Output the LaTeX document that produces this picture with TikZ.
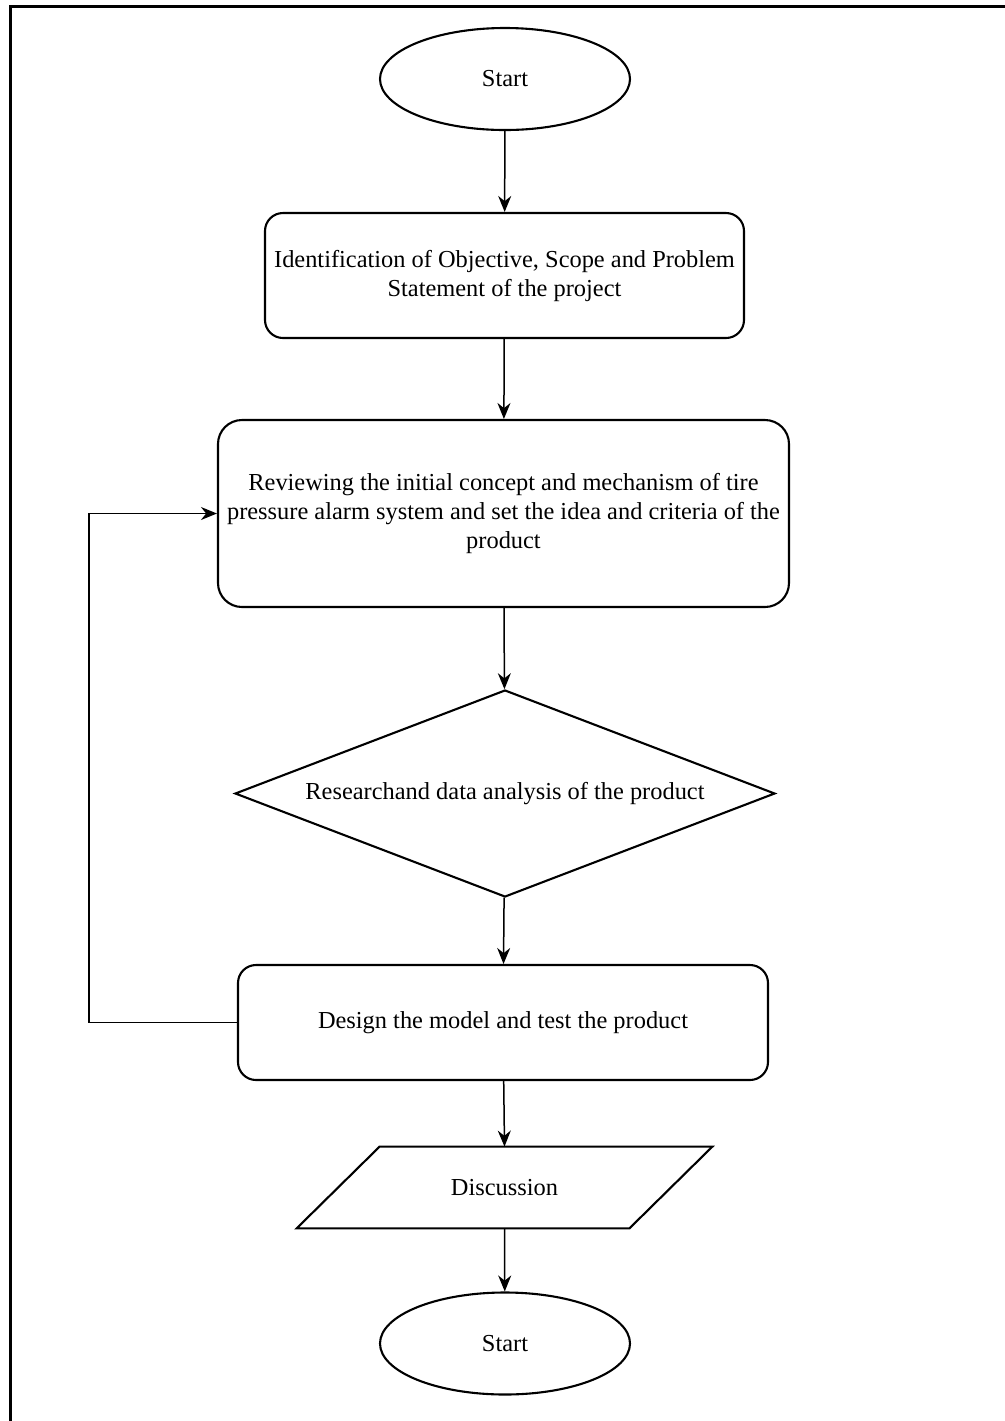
\documentclass[tikz,border=0pt]{standalone}
\usepackage{fontspec}
\setmainfont{Liberation Serif}
\usetikzlibrary{shapes.geometric,arrows.meta}
\begin{document}
\begin{tikzpicture}[x=0.5pt,y=-0.5pt,
  every node/.style={font=\fontsize{12.2}{14.5}\selectfont, inner sep=0pt},
  shapeline/.style={draw=black, line width=1.05pt},
  terminal/.style={shapeline, ellipse, minimum width=125pt, minimum height=51pt},
  procbox/.style={shapeline, rectangle, rounded corners=9pt, align=center},
  decision/.style={shapeline, diamond, shape aspect=2.6, minimum width=270pt, minimum height=103.5pt},
  flow/.style={draw=black, line width=0.75pt, -{Stealth[length=8pt,width=6.5pt]}},
  frameline/.style={draw=black, line width=1.5pt}
]
\useasboundingbox (0,0) rectangle (1005,1421);
\fill[white] (0,0) rectangle (1005,1421);
% outer frame
\coordinate (ftl) at (10,6);
\coordinate (ftr) at (1005,6);
\coordinate (fbl) at (10,1421);
\draw[frameline] (ftr) -- (ftl) -- (fbl);

\node[terminal] (start) at (505,79) {Start};
\node[procbox, minimum width=239.5pt, minimum height=62.5pt] (ident) at (504.5,275.5)
  {Identification of Objective, Scope and Problem\\Statement of the project};
\node[procbox, rounded corners=12pt, minimum width=285.5pt, minimum height=93.5pt] (review) at (503.5,513.5)
  {Reviewing the initial concept and mechanism of tire\\pressure alarm system and set the idea and criteria of the\\product};
\node[decision] (research) at (505,793.5) {Researchand data analysis of the product};
\node[procbox, minimum width=265pt, minimum height=57.5pt] (design) at (503,1022.5)
  {Design the model and test the product};
\node[minimum width=166pt, minimum height=40.5pt] (disc) at (504.5,1187.5) {Discussion};
\draw[shapeline] ([xshift=20.75pt]disc.north west) -- ([xshift=20.75pt]disc.north east)
  -- ([xshift=-20.75pt]disc.south east) -- ([xshift=-20.75pt]disc.south west) -- cycle;
\node[terminal] (finish) at (505,1343.5) {Start};

\draw[flow] (start) -- (ident);
\draw[flow] (ident) -- (review);
\draw[flow] (review) -- (research);
\draw[flow] (research) -- (design);
\draw[flow] (design) -- (disc.north);
\draw[flow] (disc.south) -- (finish);
\draw[flow] (design.west) -- ++(-148,0) |- (review.west);
\end{tikzpicture}
\end{document}
